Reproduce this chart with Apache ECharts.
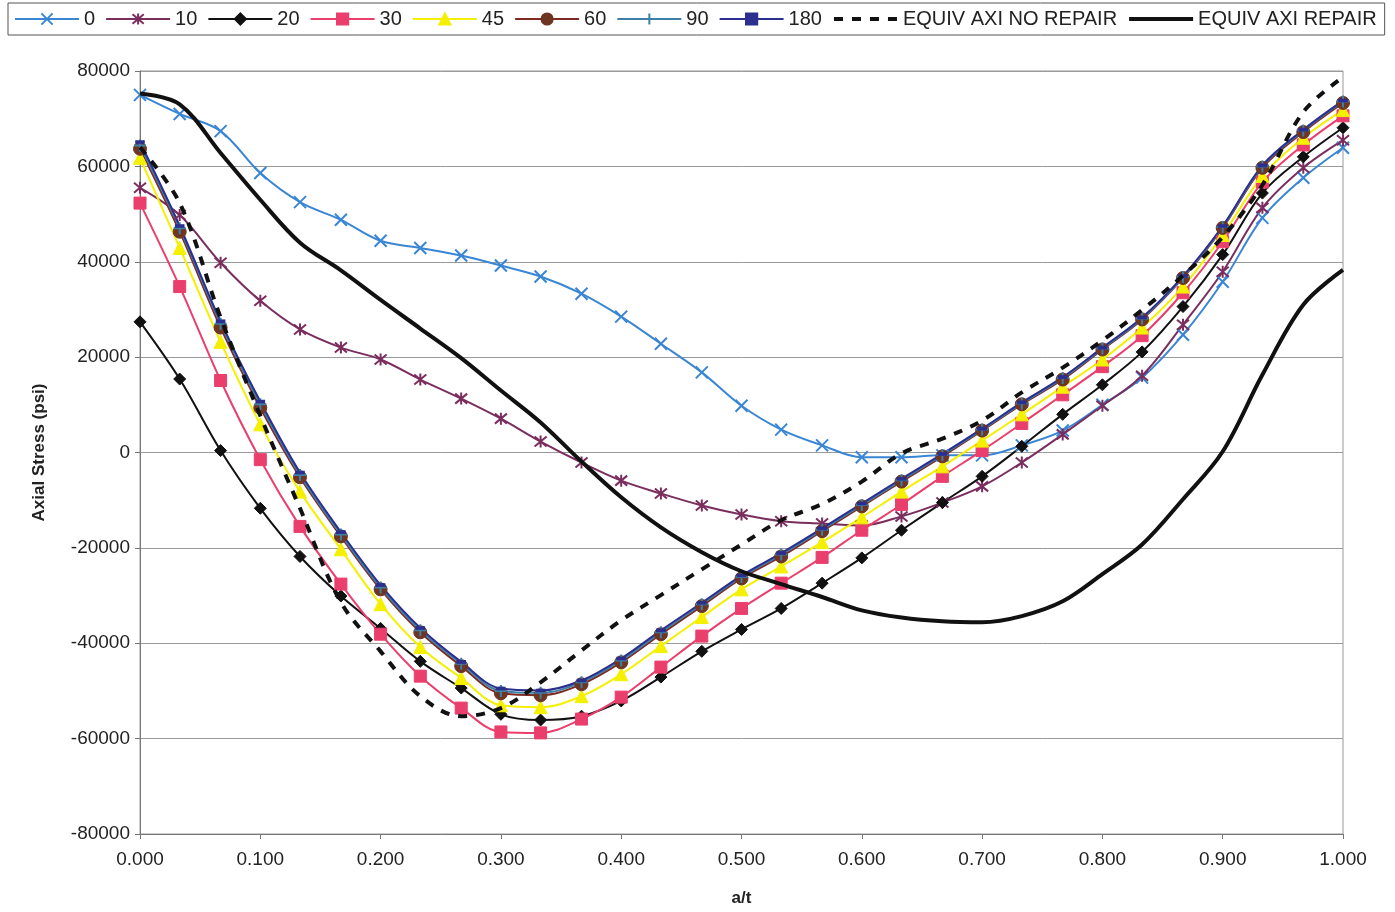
<!DOCTYPE html>
<html lang="en">
  <head>
    <meta charset="UTF-8" />
    <title>Axial Stress vs a/t</title>
    <script src="https://cdn.jsdelivr.net/npm/echarts@6.0.0/dist/echarts.min.js"></script>
    <style>
      html, body { margin: 0; padding: 0; background: #fff; }
    </style>
  </head>

  <body>
    <div id="main" style="width: 1395px; height: 912px"></div>

    <script type="text/javascript">
      // a/t positions (31 stations through the wall)
      const aOverT = [0.000, 0.033, 0.067, 0.100, 0.133, 0.167, 0.200, 0.233, 0.267, 0.300, 0.333,
        0.367, 0.400, 0.433, 0.467, 0.500, 0.533, 0.567, 0.600, 0.633, 0.667,
        0.700, 0.733, 0.767, 0.800, 0.833, 0.867, 0.900, 0.933, 0.967, 1.000];

      // axial stress (psi) for each angle
      const s0 = [75000, 71000, 67400, 58600, 52500, 48800, 44400, 42900, 41300, 39200, 36900,
        33300, 28500, 22800, 16800, 9800, 4800, 1500, -1000, -1000, -600,
        -600, 1500, 4600, 10000, 15700, 24700, 35800, 49200, 57600, 63900];
      const s10 = [55500, 49800, 39800, 31800, 25800, 22000, 19500, 15300, 11300, 7100, 2300,
        -2100, -5900, -8600, -11100, -13000, -14400, -14900, -15300, -13400, -10500,
        -7100, -2100, 3800, 9800, 16100, 26800, 37900, 51300, 59700, 65500];
      const s20 = [27400, 15400, 400, -11700, -21800, -30100, -36900, -43800, -49400, -54900, -56100,
        -55300, -52100, -47100, -41700, -37100, -32700, -27400, -22100, -16300, -10500,
        -5000, 1300, 8000, 14200, 21100, 30600, 41500, 54400, 62000, 68100];
      const s30 = [52300, 34800, 15100, -1500, -15500, -27600, -38100, -46900, -53600, -58600, -58800,
        -55900, -51300, -45000, -38500, -32700, -27400, -22000, -16300, -10900, -5000,
        400, 6100, 12100, 18000, 24500, 33500, 44200, 56700, 64500, 70600];
      const s45 = [61800, 42900, 23200, 5900, -8200, -20300, -31800, -40800, -47300, -53000, -53400,
        -51100, -46500, -40600, -34500, -28700, -23900, -18800, -13600, -8200, -2900,
        2500, 8000, 13800, 19500, 26200, 34800, 45600, 58000, 66000, 71800];
      const s60 = [63700, 46300, 26200, 9400, -5200, -17600, -28700, -37700, -44800, -50500, -50900,
        -48600, -44000, -38100, -32200, -26400, -21800, -16500, -11300, -6100, -800,
        4600, 10100, 15300, 21600, 27900, 36600, 47100, 59700, 67200, 73300];
      const s90 = [64400, 47000, 27000, 10100, -4700, -17200, -28300, -37300, -44300, -50000, -50400,
        -48200, -43600, -37700, -31800, -26100, -21400, -16200, -11000, -5800, -500,
        4800, 10300, 15600, 21800, 28100, 36800, 47300, 60000, 67500, 73600];
      const s180 = [65100, 47500, 27500, 10700, -4200, -16700, -27800, -36800, -43900, -49500, -49900,
        -47800, -43200, -37300, -31500, -25800, -21100, -15900, -10700, -5500, -300,
        5000, 10500, 15800, 22000, 28300, 37000, 47500, 60200, 67700, 73800];
      const equivNoRepair = [64000, 52300, 28300, 7700, -11700, -31400, -41700, -51100, -55300, -53600, -48200,
        -41500, -35200, -29900, -24500, -19300, -14200, -10800, -6100, -200, 2900,
        6700, 12600, 17800, 23500, 29900, 37100, 45200, 56100, 71400, 78700];
      const equivRepair = [75300, 73000, 62800, 53000, 44000, 38200, 32000, 26000, 19800, 13000, 6300,
        -1900, -9400, -15700, -20900, -24900, -27600, -30300, -33100, -34600, -35400,
        -35600, -34300, -31200, -25500, -19300, -9800, 200, 16300, 31000, 38300];

      const legendNames = ['0', '10', '20', '30', '45', '60', '90', '180', 'EQUIV AXI NO REPAIR', 'EQUIV AXI REPAIR'];

      const font = '"Liberation Sans Narrow", "Liberation Sans", Arial, sans-serif';

      function pairs(vals) {
        return vals.map((v, i) => [aOverT[i], v]);
      }

      // marker shapes
      const xMark = 'path://M0,0L10,10M10,0L0,10';
      const starMark = 'path://M0,0L10,10M10,0L0,10M5,-1L5,11';
      const plusMark = 'path://M5,0L5,10M0,5L10,5';

      function markerSeries(name, vals, color, symbol, size, stroked, fill) {
        return {
          name: name,
          type: 'line',
          data: pairs(vals),
          smooth: 0.35,
          symbol: symbol,
          symbolSize: size,
          showSymbol: true,
          lineStyle: { color: color, width: 2 },
          itemStyle: stroked
            ? { color: 'rgba(0,0,0,0)', borderColor: color, borderWidth: 2 }
            : { color: fill || color, borderColor: fill || color, borderWidth: 1 },
          emphasis: { disabled: true },
          z: 2
        };
      }

      function curveSeries(name, vals, dashed) {
        return {
          name: name,
          type: 'line',
          data: pairs(vals),
          smooth: 0.35,
          showSymbol: false,
          symbol: 'none',
          lineStyle: { color: '#111', width: 4, type: dashed ? [9, 9] : 'solid' },
          itemStyle: { color: '#111' },
          emphasis: { disabled: true },
          z: 3
        };
      }

      let myChart = echarts.init(document.getElementById('main'));

      let options = {
        backgroundColor: '#fff',
        animation: false,
        legend: {
          left: 8,
          top: 3,
          padding: [6, 8, 6, 6],
          itemGap: 10,
          itemWidth: 64,
          itemHeight: 14,
          borderColor: '#555',
          borderWidth: 1,
          textStyle: { fontFamily: font, fontSize: 20, color: '#222' },
          data: legendNames.map((n) =>
            n.startsWith('EQUIV')
              ? { name: n, itemStyle: { opacity: 0 }, lineStyle: { width: 4 } }
              : n
          )
        },
        grid: {
          left: 140,
          right: 52,
          top: 71,
          bottom: 77,
          show: true,
          borderColor: '#999',
          borderWidth: 1
        },
        xAxis: {
          type: 'value',
          min: 0,
          max: 1,
          interval: 0.1,
          name: 'a/t',
          nameLocation: 'middle',
          nameGap: 56,
          nameTextStyle: { fontFamily: 'Liberation Sans, Arial', fontSize: 17, fontWeight: 'bold', color: '#222' },
          axisLine: { onZero: false, lineStyle: { color: '#777' } },
          axisTick: { show: true, length: 5, lineStyle: { color: '#777' } },
          axisLabel: {
            fontFamily: font, fontSize: 19, color: '#222', margin: 16,
            formatter: (v) => v.toFixed(3)
          },
          splitLine: { show: false }
        },
        yAxis: {
          type: 'value',
          min: -80000,
          max: 80000,
          interval: 20000,
          name: 'Axial Stress (psi)',
          nameLocation: 'middle',
          nameGap: 92,
          nameTextStyle: { fontFamily: 'Liberation Sans, Arial', fontSize: 17, fontWeight: 'bold', color: '#222' },
          axisLine: { show: true, lineStyle: { color: '#777' } },
          axisTick: { show: true, length: 5, lineStyle: { color: '#777' } },
          axisLabel: {
            fontFamily: font, fontSize: 19, color: '#222', margin: 10,
            formatter: (v) => String(v)
          },
          splitLine: { lineStyle: { color: '#9a9a9a', width: 1 } }
        },
        series: [
          markerSeries('0', s0, '#3a86d4', xMark, 12, true),
          markerSeries('10', s10, '#7a2e5e', starMark, 12, true),
          markerSeries('20', s20, '#111111', 'diamond', 12, false),
          markerSeries('30', s30, '#ea3f6c', 'rect', 12, false),
          markerSeries('45', s45, '#f4f000', 'triangle', 13, false),
          markerSeries('60', s60, '#7e2a22', 'circle', 13, false, '#6e3522'),
          markerSeries('90', s90, '#3d7fa6', plusMark, 12, true),
          markerSeries('180', s180, '#2b2f8f', 'rect', [8, 3], false),
          curveSeries('EQUIV AXI NO REPAIR', equivNoRepair, true),
          curveSeries('EQUIV AXI REPAIR', equivRepair, false)
        ]
      };

      myChart.setOption(options);
    </script>
  </body>
</html>
